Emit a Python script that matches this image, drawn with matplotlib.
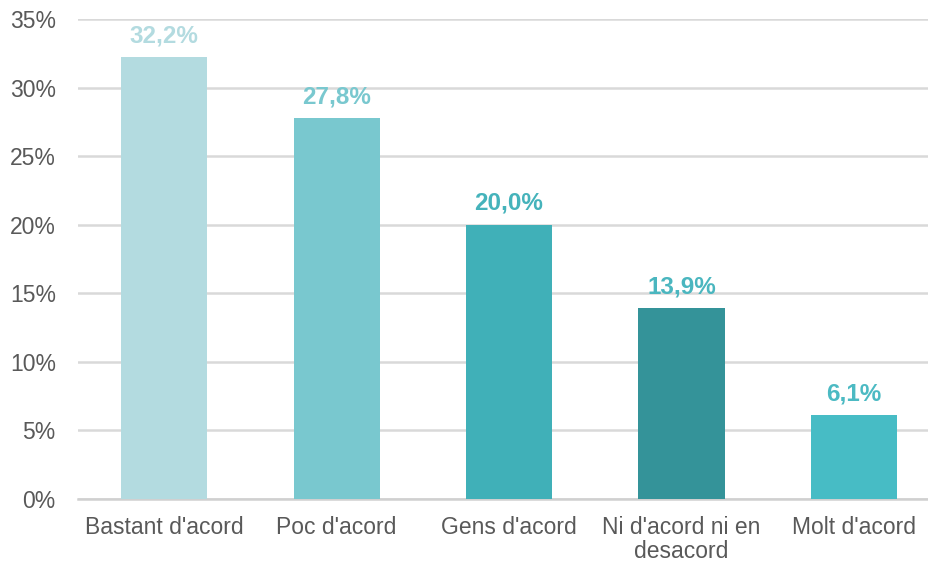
import matplotlib.pyplot as plt
import matplotlib.patheffects as pe
from matplotlib.ticker import MultipleLocator, FuncFormatter

categories = ["Bastant d'acord", "Poc d'acord", "Gens d'acord",
              "Ni d'acord ni en\ndesacord", "Molt d'acord"]
values = [32.2, 27.8, 20.0, 13.9, 6.1]
colors = ['#b3dbe0', '#79c8cf', '#40b0b8', '#349399', '#47bcc5']
label_colors = ['#b3dbe0', '#79c8cf', '#45b3bb', '#4ab6bf', '#4cbac3']

plt.rcParams['font.family'] = ['Liberation Sans', 'DejaVu Sans']

fig = plt.figure(figsize=(9.29, 5.67), dpi=100)
ax = fig.add_axes([78 / 929, 1 - 499 / 567, 862 / 929, 480 / 567])

x = range(len(values))
bars = ax.bar(x, values, width=0.5, color=colors, zorder=3)
for b in bars:
    b.set_path_effects([pe.SimplePatchShadow(offset=(0, 0), shadow_rgbFace='#000000', alpha=0.08, rho=1),
                        pe.Normal()])

for xi, v, c in zip(x, values, label_colors):
    ax.annotate(f'{v:.1f}%'.replace('.', ','), (xi, v), xytext=(0, 7),
                textcoords='offset points', ha='center', va='bottom',
                fontsize=17.5, fontweight='bold', color=c)

ax.set_ylim(0, 35)
ax.set_xlim(-0.5, 4.5)
ax.yaxis.set_major_locator(MultipleLocator(5))
ax.yaxis.set_major_formatter(FuncFormatter(lambda v, p: f'{v:.0f}%'))
ax.set_xticks(list(x))
ax.set_xticklabels(categories, linespacing=1.1)
ax.tick_params(axis='both', length=0, labelsize=16.5, labelcolor='#595959')
ax.tick_params(axis='x', pad=12)
ax.tick_params(axis='y', pad=16)
ax.grid(axis='y', color='#d9d9d9', linewidth=1.8, zorder=0)
for s in ['top', 'right', 'left']:
    ax.spines[s].set_visible(False)
ax.spines['bottom'].set_color('#d0d0d0')
ax.spines['bottom'].set_linewidth(1.8)

fig.savefig('out.png', dpi=100)
